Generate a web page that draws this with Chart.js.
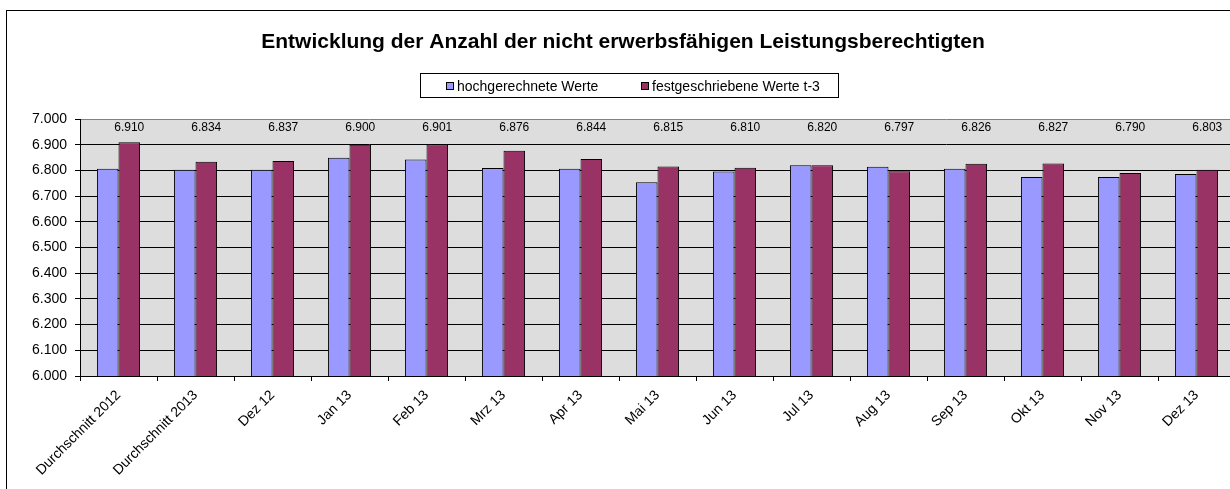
<!DOCTYPE html>
<html>
<head>
    <meta charset="utf-8">
    <title>Entwicklung der Anzahl der nicht erwerbsfähigen Leistungsberechtigten</title>
    <script src="https://cdn.jsdelivr.net/npm/chart.js"></script>
    <style>
        body {
            margin: 0;
            overflow: hidden;
            background: #fff;
        }
        .frame {
            position: absolute;
            left: 6px;
            top: 10px;
            width: 1240px;
            height: 478px;
            border-left: 1px solid #000;
            border-top: 1px solid #000;
        }
    </style>
</head>
<body>
    <div class="frame">
        <canvas id="barChart" width="1240" height="478"></canvas>
    </div>
    <script>
        const titleText = 'Entwicklung der Anzahl der nicht erwerbsfähigen Leistungsberechtigten';
        const categories = ['Durchschnitt 2012', 'Durchschnitt 2013', 'Dez 12', 'Jan 13', 'Feb 13', 'Mrz 13', 'Apr 13',
            'Mai 13', 'Jun 13', 'Jul 13', 'Aug 13', 'Sep 13', 'Okt 13', 'Nov 13', 'Dez 13'];
        const seriesNames = ['hochgerechnete Werte', 'festgeschriebene Werte t-3'];
        const hochgerechnet = [6806, 6803, 6803, 6849, 6842, 6809, 6806, 6754, 6796, 6820, 6814, 6806, 6774, 6774, 6786];
        const festgeschrieben = [6910, 6834, 6837, 6900, 6901, 6876, 6844, 6815, 6810, 6820, 6797, 6826, 6827, 6790, 6803];
        const yMin = 6000;
        const yMax = 7000;
        const yStep = 100;

        const colors = ['#9999FF', '#993366'];
        const fontFamily = '"Liberation Sans", Arial, sans-serif';

        // 6910 -> "6.910"
        function fmt(n) {
            const s = String(Math.round(n));
            return s.slice(0, -3) + '.' + s.slice(-3);
        }

        Chart.defaults.font.family = fontFamily;
        Chart.defaults.color = '#000';

        // grey plot area, drawn before the grid
        const plotBackground = {
            id: 'plotBackground',
            beforeDraw(chart) {
                const a = chart.chartArea;
                const ctx = chart.ctx;
                ctx.save();
                ctx.fillStyle = '#DDDDDD';
                ctx.fillRect(a.left, a.top, a.right - a.left, a.bottom - a.top);
                ctx.restore();
            }
        };

        // title, boxed legend and the value labels of the second series
        const decorations = {
            id: 'decorations',
            afterDatasetsDraw(chart) {
                const ctx = chart.ctx;
                const y = chart.scales.y;
                ctx.save();

                ctx.fillStyle = '#000';
                ctx.font = 'bold 21px ' + fontFamily;
                ctx.textAlign = 'center';
                ctx.textBaseline = 'alphabetic';
                ctx.fillText(titleText, chart.width / 2 - 4, 37);

                // legend
                ctx.font = '14px ' + fontFamily;
                ctx.textAlign = 'left';
                ctx.strokeStyle = '#000';
                ctx.lineWidth = 1;
                ctx.strokeRect(413.5, 62.5, 418, 24);
                const itemX = [439, 634];
                seriesNames.forEach((name, i) => {
                    ctx.fillStyle = colors[i];
                    ctx.fillRect(itemX[i], 71, 7, 7);
                    ctx.strokeRect(itemX[i] + 0.5, 71.5, 7, 7);
                    ctx.fillStyle = '#000';
                    ctx.fillText(name, itemX[i] + 11, 80);
                });

                // value labels above the red bars
                ctx.font = '12px ' + fontFamily;
                ctx.textAlign = 'center';
                ctx.textBaseline = 'middle';
                const meta = chart.getDatasetMeta(1);
                meta.data.forEach((bar, i) => {
                    ctx.fillText(fmt(festgeschrieben[i]), bar.x, y.getPixelForValue(6965));
                });
                ctx.restore();
            }
        };

        document.addEventListener('DOMContentLoaded', function() {
            const ctx = document.getElementById('barChart').getContext('2d');
            new Chart(ctx, {
                type: 'bar',
                data: {
                    labels: categories,
                    datasets: [{
                        label: seriesNames[0],
                        data: hochgerechnet,
                        backgroundColor: colors[0],
                        borderColor: '#000',
                        borderWidth: 1,
                        borderSkipped: 'bottom'
                    }, {
                        label: seriesNames[1],
                        data: festgeschrieben,
                        backgroundColor: colors[1],
                        borderColor: '#000',
                        borderWidth: 1,
                        borderSkipped: 'bottom'
                    }]
                },
                options: {
                    responsive: false,
                    animation: false,
                    layout: {
                        padding: { left: 0, top: 108, right: 12, bottom: 0 }
                    },
                    datasets: {
                        bar: {
                            categoryPercentage: 0.56,
                            barPercentage: 1.0
                        }
                    },
                    plugins: {
                        legend: { display: false },
                        title: { display: false },
                        tooltip: { enabled: false }
                    },
                    scales: {
                        x: {
                            afterFit(scale) { scale.height = 113; },
                            grid: {
                                offset: true,
                                drawOnChartArea: false,
                                tickLength: 5,
                                color: '#000'
                            },
                            border: { color: '#000', width: 1 },
                            ticks: {
                                autoSkip: false,
                                minRotation: 45,
                                maxRotation: 45,
                                padding: 6,
                                font: { size: 14 }
                            }
                        },
                        y: {
                            min: yMin,
                            max: yMax,
                            afterFit(scale) { scale.width = 73; },
                            grid: {
                                color: c => (c.tick && c.tick.value === yMax) ? '#808080' : '#000',
                                tickColor: '#000',
                                tickLength: 5,
                                lineWidth: 1
                            },
                            border: { color: '#000', width: 1 },
                            ticks: {
                                stepSize: yStep,
                                padding: 8,
                                font: { size: 14 },
                                callback: v => fmt(v)
                            }
                        }
                    }
                },
                plugins: [plotBackground, decorations]
            });
        });
    </script>
</body>
</html>
